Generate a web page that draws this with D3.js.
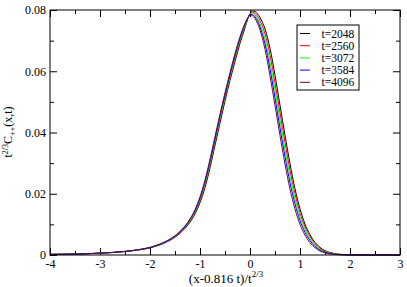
<!DOCTYPE html>
<html>
<head>
<meta charset="utf-8">
<script src="https://cdn.jsdelivr.net/npm/d3@7"></script>
<style>
  html, body { margin: 0; padding: 0; background: #fff; }
  svg { display: block; }
  svg text { font-family: "Liberation Serif", "Times New Roman", Times, "DejaVu Serif", serif; fill: #000; }
</style>
</head>
<body>
<svg id="chart" width="407" height="287"></svg>
<script>
// ---------- data ----------
const xGrid = [-4, -3.5, -3, -2.5, -2.25, -2.0, -1.9, -1.8, -1.7, -1.6, -1.5, -1.4, -1.3, -1.2, -1.1, -1.0, -0.9, -0.8, -0.7, -0.6, -0.5, -0.4, -0.3, -0.2, -0.1, -0.05, 0, 0.05, 0.1, 0.2, 0.3, 0.4, 0.5, 0.6, 0.7, 0.8, 0.9, 1.0, 1.1, 1.2, 1.3, 1.4, 1.5, 1.6, 1.8, 2.0, 2.5, 3.0];

const c2048 = [0.0002, 0.0003, 0.0006, 0.0011, 0.0016, 0.0023, 0.0028, 0.0033, 0.0040, 0.0048, 0.0058, 0.0071, 0.0087, 0.0107, 0.0134, 0.0171, 0.0220, 0.0285, 0.0358, 0.0431, 0.0503, 0.0570, 0.0632, 0.0691, 0.0742, 0.0768, 0.0787, 0.0797, 0.0795, 0.0775, 0.0738, 0.0675, 0.0587, 0.0489, 0.0391, 0.0298, 0.0216, 0.0151, 0.0101, 0.0066, 0.0041, 0.0025, 0.0014, 0.0008, 0.0002, 0.0001, 0, 0];
const c2560 = [0.0002, 0.0003, 0.0006, 0.00113, 0.00163, 0.00235, 0.00285, 0.00338, 0.00408, 0.0049, 0.00593, 0.00725, 0.0089, 0.01098, 0.01375, 0.01758, 0.02263, 0.0292, 0.03653, 0.04383, 0.05098, 0.05765, 0.0638, 0.06965, 0.07458, 0.07693, 0.0786, 0.0793, 0.0789, 0.0765, 0.0722, 0.0653, 0.0562, 0.0464, 0.0368, 0.0277, 0.0200, 0.0138, 0.0092, 0.0060, 0.0037, 0.0022, 0.0012, 0.0007, 0.0002, 0.0001, 0, 0];
const c3072 = [0.0002, 0.0003, 0.0006, 0.00115, 0.00165, 0.0024, 0.0029, 0.00345, 0.00415, 0.0050, 0.00605, 0.0074, 0.0091, 0.01125, 0.0141, 0.01805, 0.02325, 0.0299, 0.03725, 0.04455, 0.05165, 0.0583, 0.0645, 0.0702, 0.07495, 0.07705, 0.07855, 0.0789, 0.0784, 0.0755, 0.0705, 0.0630, 0.0538, 0.0440, 0.0344, 0.0257, 0.0183, 0.0126, 0.0083, 0.0053, 0.0033, 0.0019, 0.0011, 0.0006, 0.0002, 0.0000, 0, 0];
const c3584 = [0.0002, 0.0003, 0.0006, 0.00118, 0.00168, 0.00245, 0.00295, 0.00353, 0.00423, 0.0051, 0.00618, 0.00755, 0.0093, 0.01153, 0.01445, 0.01853, 0.02388, 0.0306, 0.03798, 0.04528, 0.05233, 0.05895, 0.06515, 0.07075, 0.07533, 0.07718, 0.07848, 0.0785, 0.0778, 0.0745, 0.0689, 0.0608, 0.0513, 0.0415, 0.0321, 0.0236, 0.0167, 0.0113, 0.0074, 0.0047, 0.0028, 0.0016, 0.0009, 0.0005, 0.0001, 0, 0, 0];
const c4096 = [0.0002, 0.0003, 0.0006, 0.0012, 0.0017, 0.0025, 0.0030, 0.0036, 0.0043, 0.0052, 0.0063, 0.0077, 0.0095, 0.0118, 0.0148, 0.0190, 0.0245, 0.0313, 0.0387, 0.0460, 0.0530, 0.0596, 0.0658, 0.0713, 0.0757, 0.0773, 0.0784, 0.0781, 0.0772, 0.0735, 0.0672, 0.0585, 0.0488, 0.0390, 0.0297, 0.0215, 0.0150, 0.0100, 0.0065, 0.0040, 0.0024, 0.0013, 0.0007, 0.0004, 0.0001, 0, 0, 0];

const seriesNames = ["t=2048", "t=2560", "t=3072", "t=3584", "t=4096"];
const seriesValues = [c2048, c2560, c3072, c3584, c4096];
const seriesColors = ["#000000", "#ff0000", "#00ff00", "#0000ff", "#670748"];

const xMajorTicks = [-4, -3, -2, -1, 0, 1, 2, 3];
const xMinorTicks = [-3.5, -2.5, -1.5, -0.5, 0.5, 1.5, 2.5];
const yMajorTicks = [0, 0.02, 0.04, 0.06, 0.08];
const yMinorTicks = [0.01, 0.03, 0.05, 0.07];

// ---------- layout ----------
const L = 50, R = 400, T = 10, B = 255;
const MAJ = 7, MIN = 4;
const SERIF = "'Liberation Serif', 'Times New Roman', Times, serif";

const svg = d3.select("#chart");
const x = d3.scaleLinear().domain([-4, 3]).range([L, R]);
const y = d3.scaleLinear().domain([0, 0.08]).range([B, T]);

function styleAxis(g) {
  g.attr("font-family", null).attr("font-size", null);
  g.select(".domain").remove();
  g.selectAll(".tick line").attr("stroke", "#000").attr("stroke-width", 1);
  g.selectAll("text").style("font-family", SERIF).style("font-size", "12px").attr("fill", "#000");
}

// bottom axis (with labels)
svg.append("g").attr("transform", `translate(0,${B})`)
  .call(d3.axisBottom(x).tickValues(xMajorTicks).tickSize(-MAJ).tickPadding(4).tickFormat(d => String(d)))
  .call(styleAxis);
svg.append("g").attr("transform", `translate(0,${B})`)
  .call(d3.axisBottom(x).tickValues(xMinorTicks).tickSize(-MIN).tickFormat(""))
  .call(styleAxis);
// top axis
svg.append("g").attr("transform", `translate(0,${T})`)
  .call(d3.axisTop(x).tickValues(xMajorTicks).tickSize(-MAJ).tickFormat(""))
  .call(styleAxis);
svg.append("g").attr("transform", `translate(0,${T})`)
  .call(d3.axisTop(x).tickValues(xMinorTicks).tickSize(-MIN).tickFormat(""))
  .call(styleAxis);
// left axis (with labels)
svg.append("g").attr("transform", `translate(${L},0)`)
  .call(d3.axisLeft(y).tickValues(yMajorTicks).tickSize(-MAJ).tickPadding(4).tickFormat(d => d === 0 ? "0" : d.toFixed(2)))
  .call(styleAxis);
svg.append("g").attr("transform", `translate(${L},0)`)
  .call(d3.axisLeft(y).tickValues(yMinorTicks).tickSize(-MIN).tickFormat(""))
  .call(styleAxis);
// right axis
svg.append("g").attr("transform", `translate(${R},0)`)
  .call(d3.axisRight(y).tickValues(yMajorTicks).tickSize(-MAJ).tickFormat(""))
  .call(styleAxis);
svg.append("g").attr("transform", `translate(${R},0)`)
  .call(d3.axisRight(y).tickValues(yMinorTicks).tickSize(-MIN).tickFormat(""))
  .call(styleAxis);

// curves
const line = d3.line().curve(d3.curveMonotoneX).x(d => x(d[0])).y(d => y(d[1]));
seriesValues.forEach((vals, i) => {
  svg.append("path")
    .datum(xGrid.map((xv, j) => [xv, vals[j]]))
    .attr("fill", "none")
    .attr("stroke", seriesColors[i])
    .attr("stroke-width", 1)
    .attr("d", line);
});

// frame
svg.append("rect").attr("x", L).attr("y", T).attr("width", R - L).attr("height", B - T)
  .attr("fill", "none").attr("stroke", "#000").attr("stroke-width", 1);

// legend
const lg = svg.append("g");
lg.append("rect").attr("x", 297).attr("y", 25).attr("width", 62).attr("height", 65)
  .attr("fill", "#fff").attr("stroke", "#000").attr("stroke-width", 1);
seriesNames.forEach((name, i) => {
  const by = 37.5 + i * 12.2;
  lg.append("line").attr("x1", 300).attr("x2", 310).attr("y1", by - 4).attr("y2", by - 4)
    .attr("stroke", seriesColors[i]).attr("stroke-width", 1);
  lg.append("text").attr("x", 321.5).attr("y", by)
    .style("font-family", SERIF).style("font-size", "11.5px").text(name);
});

// x axis title
const xt = svg.append("text").attr("x", 226).attr("y", 283).attr("text-anchor", "middle")
  .style("font-family", SERIF).style("font-size", "13px");
xt.append("tspan").text("(x-0.816 t)/t");
xt.append("tspan").attr("dy", -6).style("font-size", "9px").text("2/3");

// y axis title
const yt = svg.append("text").attr("transform", "translate(12,132) rotate(-90)").attr("text-anchor", "middle")
  .style("font-family", SERIF).style("font-size", "12px");
yt.append("tspan").text("t");
yt.append("tspan").attr("dy", -4).style("font-size", "8px").text("2/3");
yt.append("tspan").attr("dy", 4).text("C");
yt.append("tspan").attr("dy", 3).style("font-size", "8px").text("++");
yt.append("tspan").attr("dy", -3).text("(x,t)");
</script>
</body>
</html>
